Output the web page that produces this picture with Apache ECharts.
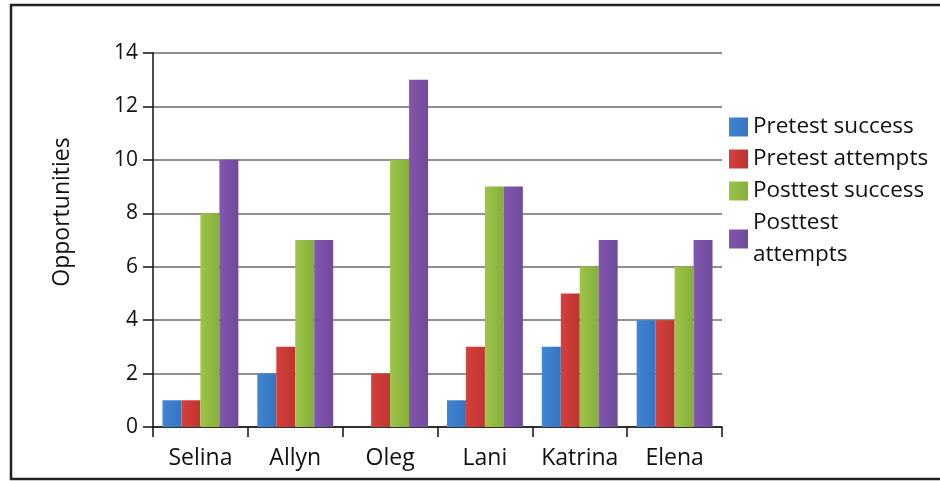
<!DOCTYPE html>
<html><head><meta charset="utf-8">
<script src="https://cdn.jsdelivr.net/npm/echarts@6/dist/echarts.min.js"></script>
<style>html,body{margin:0;padding:0;background:#fff}#c{width:940px;height:481px}</style>
</head><body><div id="c"></div>
<script>
const categories = ['Selina','Allyn','Oleg','Lani','Katrina','Elena'];
const seriesNames = ['Pretest success','Pretest attempts','Posttest success','Posttest attempts'];
const pretestSuccess = [1,2,0,1,3,4];
const pretestAttempts = [1,3,2,3,5,4];
const posttestSuccess = [8,7,10,9,6,6];
const posttestAttempts = [10,7,13,9,7,7];
const yTicks = [0,2,4,6,8,10,12,14];

const FONT = '"Open Sans", sans-serif';
const grads = [
  ['#3f86d3','#3574c0'],
  ['#d5403c','#bd3431'],
  ['#9cc548','#86ae3c'],
  ['#8257b0','#6f4a9a']
];
function grad(i){
  return new echarts.graphic.LinearGradient(0,0,1,0,[
    {offset:0,color:grads[i][0]},{offset:1,color:grads[i][1]}]);
}
const values = [pretestSuccess, pretestAttempts, posttestSuccess, posttestAttempts];
const chart = echarts.init(document.getElementById('c'));
chart.setOption({
  animation:false,
  backgroundColor:'#fff',
  grid:{left:153,right:218,top:53,bottom:54},
  legend:{
    orient:'vertical', left:724, top:106, itemWidth:19, itemHeight:19, itemGap:0,
    icon:'rect',
    textStyle:{fontFamily:FONT,fontSize:22.5,color:'#111',lineHeight:32},
    formatter:function(n){return n==='Posttest attempts'?'Posttest\nattempts':n;},
    data:seriesNames
  },
  xAxis:{
    type:'category', data:categories,
    axisLine:{lineStyle:{color:'#111',width:1.5}},
    axisTick:{show:true,interval:0,length:10,lineStyle:{color:'#111',width:1.5}},
    axisLabel:{interval:0,fontFamily:FONT,fontSize:23,color:'#111',margin:20}
  },
  yAxis:{
    type:'value', min:0, max:14, interval:2,
    axisLine:{show:true,lineStyle:{color:'#111',width:1.5}},
    axisTick:{show:true,length:10,lineStyle:{color:'#111',width:1.5}},
    axisLabel:{fontFamily:FONT,fontSize:21,color:'#111',margin:15,
      formatter:function(v){return yTicks.indexOf(v)>=0?String(v):'';}},
    splitLine:{lineStyle:{color:'#6b6b6b',width:1.5}}
  },
  series: seriesNames.map(function(n,i){
    return {name:n,type:'bar',data:values[i],barGap:'0%',barCategoryGap:'20%',
      itemStyle:{color:grad(i)}};
  }),
  graphic:[
    {type:'rect',shape:{x:11,y:5,width:940,height:474},
     style:{fill:'none',stroke:'#222',lineWidth:2.5},silent:true},
    {type:'text',x:62,y:212,rotation:Math.PI/2,
     style:{text:'Opportunities',font:'23px "Open Sans", sans-serif',fill:'#111',
       textAlign:'center',textVerticalAlign:'middle'}}
  ]
});
</script></body></html>
